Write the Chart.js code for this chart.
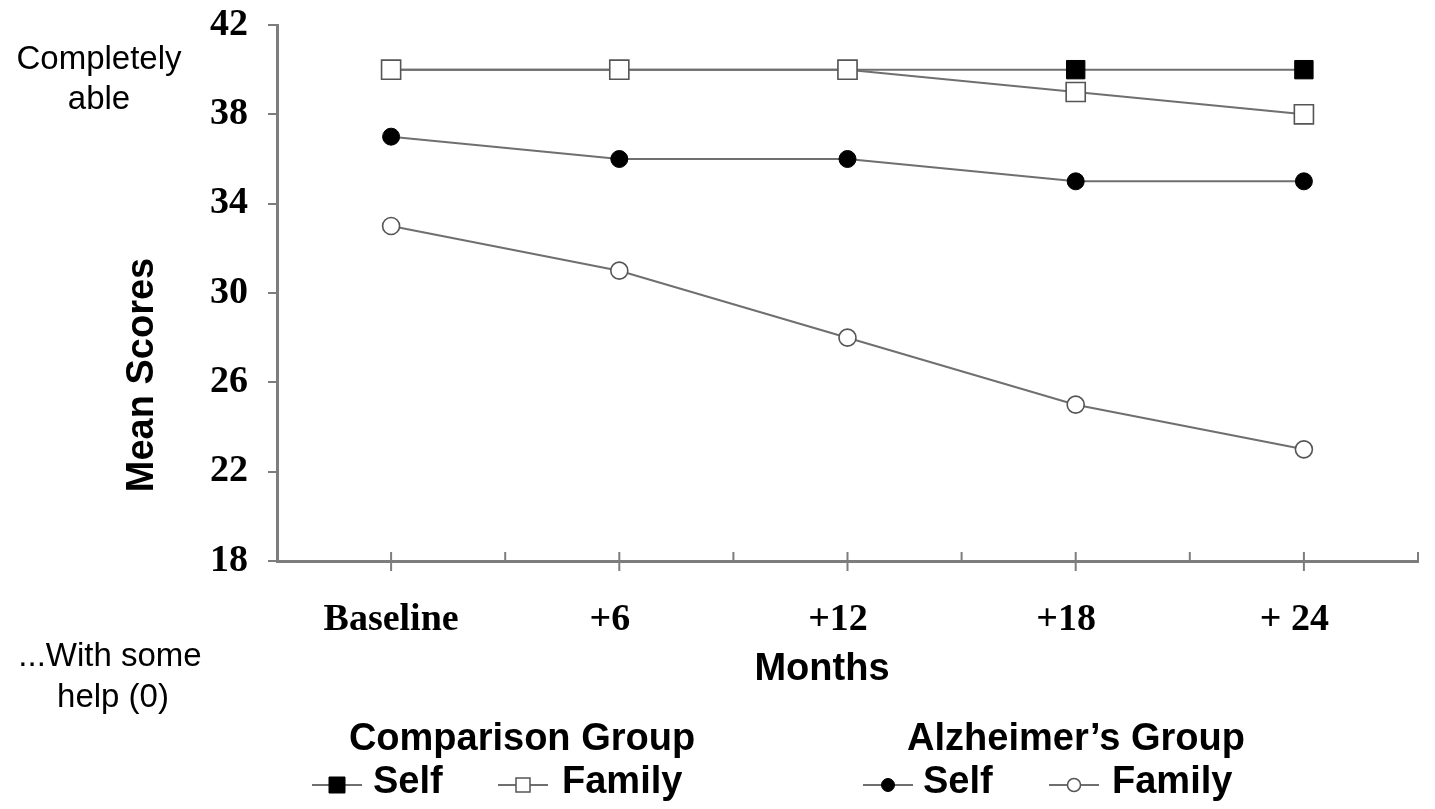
<!DOCTYPE html>
<html>
<head>
<meta charset="utf-8">
<script src="https://cdn.jsdelivr.net/npm/chart.js@4.4.1/dist/chart.umd.min.js"></script>
<style>
  html, body { margin: 0; padding: 0; background: #fff; }
  #chart { display: block; }
</style>
</head>
<body>
<canvas id="chart" width="1435" height="809"></canvas>
<script>
// Data
const MONTHS = ['Baseline', '+6\u2002', '+12\u2002', '+18\u2002', '+ 24\u2002'];
const COMPARISON_SELF = [40, 40, 40, 40, 40];
const COMPARISON_FAMILY = [40, 40, 40, 39, 38];
const ALZHEIMER_SELF = [37, 36, 36, 35, 35];
const ALZHEIMER_FAMILY = [33, 31, 28, 25, 23];
const Y_MIN = 18;
const Y_MAX = 42;
const Y_STEP = 2;
const Y_LABEL_EVERY = 4;

const COLORS = {
  line: '#6f6f6f',
  axis: '#7d7d7d',
  marker: '#000000',
  openEdge: '#555555',
  text: '#000000',
};

const SANS = "'Liberation Sans', Arial, sans-serif";
const SERIF = "'Liberation Serif', 'Times New Roman', serif";

const toPoints = (arr) => arr.map((y, x) => ({ x, y }));

function series(label, data, style, filled, radius) {
  return {
    label,
    data: toPoints(data),
    borderColor: COLORS.line,
    borderWidth: 2,
    pointStyle: style,
    pointRadius: radius,
    pointHoverRadius: radius,
    pointBackgroundColor: filled ? COLORS.marker : '#ffffff',
    pointBorderColor: filled ? COLORS.marker : COLORS.openEdge,
    pointBorderWidth: filled ? 1 : 1.6,
    tension: 0,
    fill: false,
    clip: false,
  };
}

// dataset 0 is painted last (on top)
const datasets = [
  series('Comparison Family', COMPARISON_FAMILY, 'rect', false, 13.5),
  series('Comparison Self', COMPARISON_SELF, 'rect', true, 13),
  series('Alzheimer Family', ALZHEIMER_FAMILY, 'circle', false, 8.5),
  series('Alzheimer Self', ALZHEIMER_SELF, 'circle', true, 8.5),
];

function drawLegendMarker(ctx, x, y, shape, filled, size) {
  ctx.save();
  ctx.strokeStyle = COLORS.line;
  ctx.lineWidth = 2;
  ctx.beginPath();
  ctx.moveTo(x - 25, y);
  ctx.lineTo(x + 25, y);
  ctx.stroke();
  ctx.beginPath();
  if (shape === 'rect') ctx.rect(x - size / 2, y - size / 2, size, size);
  else ctx.arc(x, y, size / 2, 0, Math.PI * 2);
  ctx.fillStyle = filled ? COLORS.marker : '#ffffff';
  ctx.fill();
  ctx.lineWidth = filled ? 1 : 1.5;
  ctx.strokeStyle = filled ? COLORS.marker : COLORS.openEdge;
  ctx.stroke();
  ctx.restore();
}

const decorations = {
  id: 'decorations',
  afterDraw(chart) {
    const { ctx, chartArea, scales } = chart;
    const xs = scales.x;
    const bottom = chartArea.bottom;

    // x axis tick marks: crossing at each month, short upward between
    ctx.save();
    ctx.strokeStyle = COLORS.axis;
    ctx.lineWidth = 2;
    MONTHS.forEach((_, i) => {
      const px = xs.getPixelForValue(i);
      ctx.beginPath();
      ctx.moveTo(px, bottom - 9);
      ctx.lineTo(px, bottom + 10);
      ctx.stroke();
      const mid = xs.getPixelForValue(i + 0.5);
      ctx.beginPath();
      ctx.moveTo(mid, bottom - 9);
      ctx.lineTo(mid, bottom);
      ctx.stroke();
    });
    ctx.restore();

    ctx.save();
    ctx.fillStyle = COLORS.text;
    ctx.textAlign = 'center';
    ctx.textBaseline = 'middle';

    ctx.font = `33px ${SANS}`;
    ctx.fillText('Completely', 99, 60);
    ctx.fillText('able', 99, 100);
    ctx.fillText('...With some', 110, 657);
    ctx.fillText('help (0)', 113, 698);

    ctx.font = `bold 38px ${SANS}`;
    ctx.fillText('Months', 822, 670);
    ctx.fillText('Comparison Group', 522, 740);
    ctx.fillText('Alzheimer\u2019s Group', 1076, 740);

    ctx.save();
    ctx.translate(143, 375);
    ctx.rotate(-Math.PI / 2);
    ctx.fillText('Mean Scores', 0, 0);
    ctx.restore();

    // legend rows
    const ly = 785;
    drawLegendMarker(ctx, 337, ly, 'rect', true, 16);
    drawLegendMarker(ctx, 523, ly, 'rect', false, 14);
    drawLegendMarker(ctx, 888, ly, 'circle', true, 13);
    drawLegendMarker(ctx, 1074, ly, 'circle', false, 13);
    ctx.textAlign = 'left';
    ctx.fillText('Self', 373, 783);
    ctx.fillText('Family', 562, 783);
    ctx.fillText('Self', 923, 783);
    ctx.fillText('Family', 1112, 783);
    ctx.restore();
  },
};

new Chart(document.getElementById('chart'), {
  type: 'line',
  data: { datasets },
  options: {
    responsive: false,
    animation: false,
    devicePixelRatio: 1,
    layout: { padding: { left: 0, right: 17, top: 25, bottom: 0 } },
    plugins: {
      legend: { display: false },
      tooltip: { enabled: false },
    },
    scales: {
      x: {
        type: 'linear',
        min: -0.5,
        max: 4.5,
        afterBuildTicks: (scale) => { scale.ticks = MONTHS.map((_, i) => ({ value: i })); },
        afterFit: (scale) => { scale.height = 809 - 561; },
        grid: { display: false },
        border: { display: true, color: COLORS.axis, width: 3 },
        ticks: {
          autoSkip: false,
          maxRotation: 0,
          padding: 28,
          color: COLORS.text,
          font: { family: SERIF, size: 38, weight: 'bold' },
          callback: (v, i) => MONTHS[i],
        },
      },
      y: {
        min: Y_MIN,
        max: Y_MAX,
        afterFit: (scale) => {
          scale.width = 277;
          scale.paddingTop = 0;
          scale.paddingBottom = 0;
        },
        grid: { drawOnChartArea: false, drawTicks: true, tickLength: 9, color: COLORS.axis, lineWidth: 2 },
        border: { display: true, color: COLORS.axis, width: 3 },
        ticks: {
          stepSize: Y_STEP,
          padding: 20,
          color: COLORS.text,
          font: { family: SERIF, size: 38, weight: 'bold' },
          callback: (v) => ((v - Y_MIN) % Y_LABEL_EVERY === 0 ? v : ''),
        },
      },
    },
  },
  plugins: [decorations],
});
</script>
</body>
</html>
